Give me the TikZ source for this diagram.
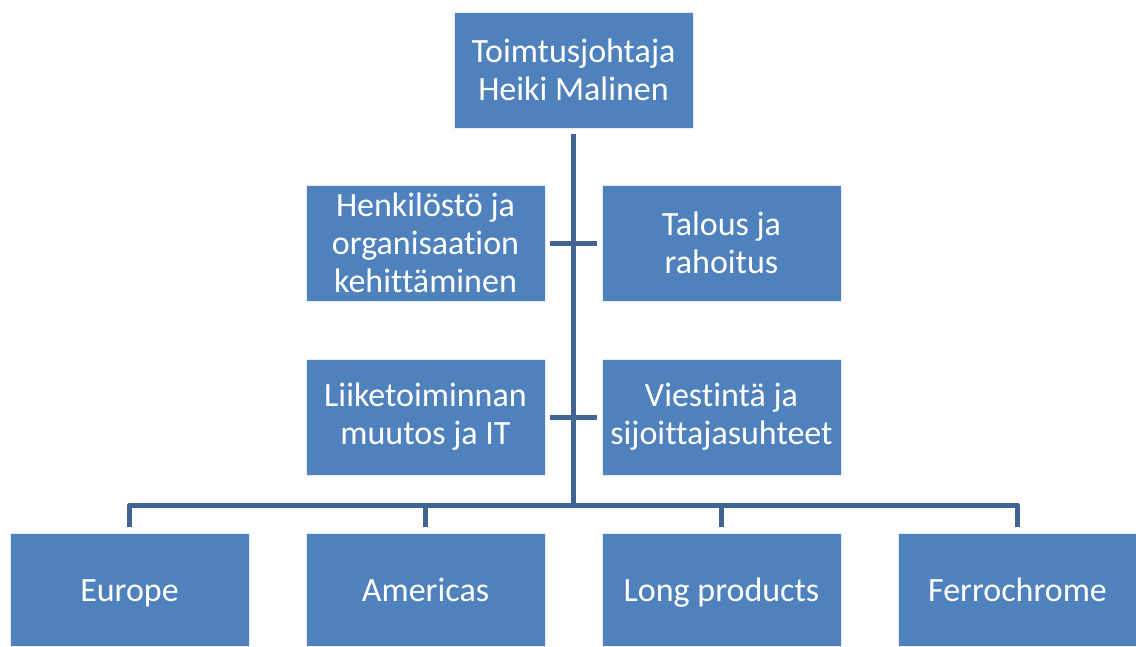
\documentclass[tikz,border=0pt]{standalone}
\usepackage{fontspec}
\setmainfont{Carlito}[Ligatures=NoCommon]
\definecolor{boxblue}{RGB}{79,129,189}
\definecolor{lineblue}{RGB}{65,100,148}
\tikzset{
  orgbox/.style={rectangle, fill=boxblue, draw=white!85!boxblue, line width=0.8pt,
    minimum width=239pt, minimum height=116pt, inner sep=2pt, text=white,
    align=center, font=\fontsize{34}{38}\selectfont},
  lowbox/.style={orgbox, minimum height=113pt, text height=25pt, text depth=1pt},
  conn/.style={draw=lineblue, line width=5pt, line join=round}
}
\begin{document}
\begin{tikzpicture}[x=1pt,y=-1pt]
\useasboundingbox (0,0) rectangle (1136,646);
\node[orgbox] (top) at (573.5,70) {Toimtusjohtaja\\Heiki Malinen};
\node[orgbox] (hen) at (425.5,243) {Henkilöstö ja\\organisaation\\kehittäminen};
\node[orgbox] (tal) at (721.5,243) {Talous ja\\rahoitus};
\node[orgbox] (lii) at (425.5,417) {Liiketoiminnan\\muutos ja IT};
\node[orgbox] (vie) at (721.5,417) {Viestintä ja\\sijoittajasuhteet};
\node[lowbox] (eur) at (129.5,589.5) {Europe};
\node[lowbox] (ame) at (425.5,589.5) {Americas};
\node[lowbox] (lon) at (721.5,589.5) {Long products};
\node[lowbox] (fer) at (1017.5,589.5) {Ferrochrome};
\coordinate (bar) at (573.5,505);
\draw[conn] ([yshift=-6pt]top.south) -- (bar);
\draw[conn] ([xshift=5pt]hen.east) -- ([xshift=-5pt]tal.west);
\draw[conn] ([xshift=5pt]lii.east) -- ([xshift=-5pt]vie.west);
\draw[conn] ([yshift=6pt]eur.north) |- (bar) -| ([yshift=6pt]fer.north);
\draw[conn] ([yshift=6pt]ame.north) -- (ame.north |- bar);
\draw[conn] ([yshift=6pt]lon.north) -- (lon.north |- bar);
\end{tikzpicture}
\end{document}
